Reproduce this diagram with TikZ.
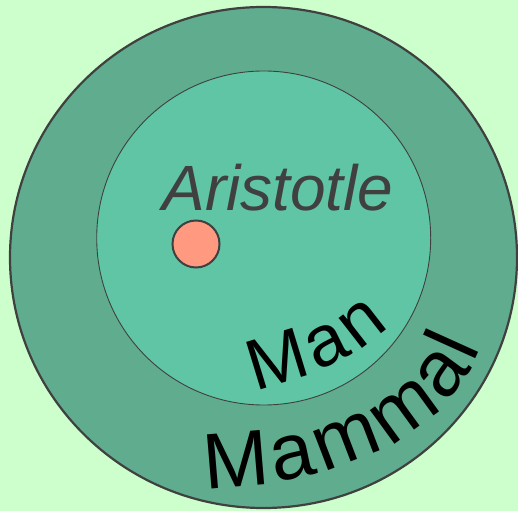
\documentclass[tikz,border=0pt]{standalone}
\usepackage{fontspec}
\setmainfont{Liberation Sans}
\usetikzlibrary{shapes.geometric,decorations.text}
\definecolor{bg}{HTML}{CCFFCC}
\definecolor{ringout}{HTML}{5FAD8E}
\definecolor{ringin}{HTML}{5FC5A5}
\definecolor{edgegray}{HTML}{404040}
\definecolor{dotfill}{HTML}{FF9980}
\newcommand\mammalsize{\fontsize{79}{80}\selectfont}
\newcommand\mansize{\fontsize{72}{73}\selectfont}
\begin{document}
\begin{tikzpicture}[x=1pt,y=1pt,
  setring/.style={draw=edgegray, inner sep=0pt, outer sep=0pt},
  arclabel/.style={decorate, decoration={text along path, text align=fit to path}}]
\fill[bg] (0,0) rectangle (518,511);
\useasboundingbox (0,0) rectangle (518,511);
\node[ellipse, setring, line width=2.2pt, fill=ringout, minimum width=507pt, minimum height=501pt] (mammal) at (263.5,253.5) {};
\node[circle, setring, line width=0.9pt, fill=ringin, minimum size=334pt] (man) at (263.7,273) {};
\node[circle, setring, line width=2pt, fill=dotfill, minimum size=47pt] (aristotle) at (196,267) {};
\node[anchor=base, inner sep=0pt, text=edgegray, font=\fontsize{64}{65}\selectfont\itshape] (aristotlelabel) at (278,300.3) {Aristotle};
\path[arclabel, decoration={text={|\mammalsize|Mammal}}] (205,23) .. controls (314,25) and (441,62) .. (481,164);
\path[arclabel, decoration={text={|\mansize|Man}}] (255,120) .. controls (303.6,131.7) and (353,150.3) .. (389,185);
\end{tikzpicture}
\end{document}
